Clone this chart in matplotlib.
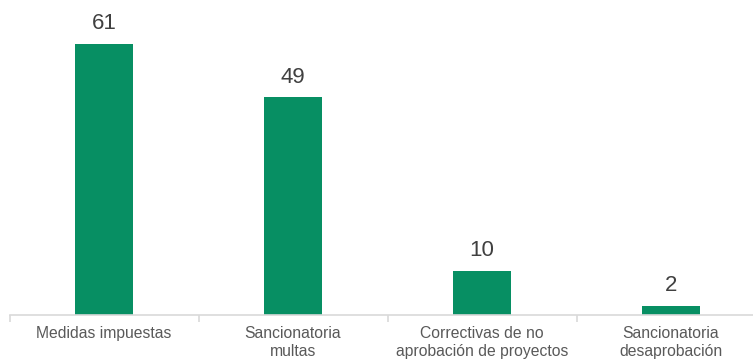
import numpy as np
import matplotlib.pyplot as plt

# === Datos ===
categorias = ['Medidas impuestas', 'Sancionatoria\nmultas',
              'Correctivas de no\naprobación de proyectos',
              'Sancionatoria\ndesaprobación']
valores = [61, 49, 10, 2]

verde = '#078f63'
gris_texto = '#595959'
gris_eje = '#d9d9d9'

plt.rcParams['font.family'] = ['Liberation Sans', 'DejaVu Sans']

fig = plt.figure(figsize=(7.53, 3.62), dpi=100)
# el eje sobresale un poco a la derecha, como en el original
ax = fig.add_axes([9.5 / 753, 47 / 362, 756 / 753, 315 / 362])

x = np.arange(len(categorias))
barras = ax.bar(x, valores, width=0.31, color=verde, zorder=2)

escala = 271 / 61  # px por unidad
ax.set_ylim(0, 315 / escala)
ax.set_xlim(-0.5, len(categorias) - 0.5)

for xi, v in zip(x, valores):
    ax.annotate(str(v), (xi, v), xytext=(0, 7), textcoords='offset points',
                ha='center', va='bottom', fontsize=16, color='#404040')

for lado in ['top', 'right', 'left']:
    ax.spines[lado].set_visible(False)
ax.spines['bottom'].set_color(gris_eje)
ax.spines['bottom'].set_linewidth(1.2)

ax.set_yticks([])
ax.set_xticks(x)
ax.set_xticklabels(categorias, fontsize=11.3, color=gris_texto, linespacing=1.2)
ax.tick_params(axis='x', which='major', length=0, pad=8)
ax.set_xticks(np.arange(-0.5, len(categorias)), minor=True)
ax.tick_params(axis='x', which='minor', length=5, width=1.2, color=gris_eje)

fig.savefig('out.png', dpi=100)
